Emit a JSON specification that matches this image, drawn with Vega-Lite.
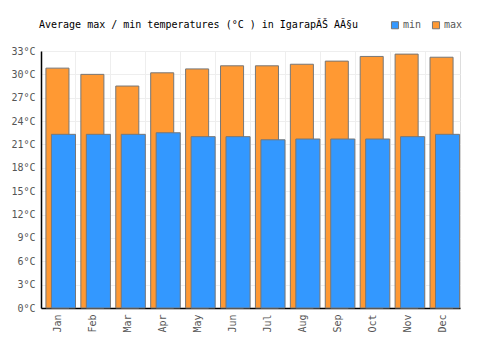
{
  "$schema": "https://vega.github.io/schema/vega-lite/v6.json",
  "autosize": "none",
  "width": 419,
  "height": 257,
  "padding": {"left": 41, "top": 51, "right": 40, "bottom": 42},
  "background": "white",
  "title": {
    "text": "Average max / min temperatures (°C ) in IgarapÃŠ AÃ§u",
    "anchor": "start",
    "frame": "group",
    "offset": -10,
    "dx": -2,
    "font": "DejaVu Sans Mono",
    "fontSize": 10,
    "fontWeight": "normal",
    "color": "#000000"
  },
  "data": {
    "values": [
      {"month": "Jan", "type": "max", "temp": 30.8},
      {"month": "Feb", "type": "max", "temp": 30.0},
      {"month": "Mar", "type": "max", "temp": 28.5},
      {"month": "Apr", "type": "max", "temp": 30.2},
      {"month": "May", "type": "max", "temp": 30.7},
      {"month": "Jun", "type": "max", "temp": 31.1},
      {"month": "Jul", "type": "max", "temp": 31.1},
      {"month": "Aug", "type": "max", "temp": 31.3},
      {"month": "Sep", "type": "max", "temp": 31.7},
      {"month": "Oct", "type": "max", "temp": 32.3},
      {"month": "Nov", "type": "max", "temp": 32.6},
      {"month": "Dec", "type": "max", "temp": 32.2},
      {"month": "Jan", "type": "min", "temp": 22.3},
      {"month": "Feb", "type": "min", "temp": 22.3},
      {"month": "Mar", "type": "min", "temp": 22.3},
      {"month": "Apr", "type": "min", "temp": 22.5},
      {"month": "May", "type": "min", "temp": 22.0},
      {"month": "Jun", "type": "min", "temp": 22.0},
      {"month": "Jul", "type": "min", "temp": 21.6},
      {"month": "Aug", "type": "min", "temp": 21.7},
      {"month": "Sep", "type": "min", "temp": 21.7},
      {"month": "Oct", "type": "min", "temp": 21.7},
      {"month": "Nov", "type": "min", "temp": 22.0},
      {"month": "Dec", "type": "min", "temp": 22.3}
    ]
  },
  "encoding": {
    "x": {
      "field": "month",
      "type": "nominal",
      "sort": null,
      "scale": {"paddingInner": 0, "paddingOuter": 0},
      "axis": {
        "title": null,
        "labelAngle": -90,
        "labelFont": "DejaVu Sans Mono",
        "labelFontSize": 10,
        "labelColor": "#555555",
        "labelPadding": 6,
        "domainColor": "#000000",
        "domainWidth": 1.5,
        "ticks": false,
        "grid": true,
        "gridColor": "#eeeeee",
        "bandPosition": 0
      }
    },
    "y": {
      "field": "temp",
      "type": "quantitative",
      "scale": {"domain": [0, 33], "nice": false},
      "axis": {
        "title": null,
        "values": [0, 3, 6, 9, 12, 15, 18, 21, 24, 27, 30, 33],
        "labelExpr": "datum.value + '°C'",
        "labelFont": "DejaVu Sans Mono",
        "labelFontSize": 10,
        "labelColor": "#555555",
        "labelPadding": 6,
        "domainColor": "#000000",
        "domainWidth": 1.5,
        "ticks": false,
        "grid": true,
        "gridColor": "#eeeeee"
      }
    },
    "color": {
      "field": "type",
      "type": "nominal",
      "sort": ["min", "max"],
      "scale": {"domain": ["min", "max"], "range": ["#3398ff", "#ff9933"]},
      "legend": {
        "title": null,
        "orient": "none",
        "legendX": 349,
        "legendY": -31,
        "direction": "horizontal",
        "symbolType": "square",
        "symbolSize": 50,
        "symbolStrokeColor": "#777777",
        "symbolStrokeWidth": 1,
        "symbolOpacity": 1,
        "labelFont": "DejaVu Sans Mono",
        "labelFontSize": 10,
        "labelColor": "#555555",
        "labelOffset": 3,
        "columnPadding": 8
      }
    }
  },
  "layer": [
    {
      "transform": [{"filter": "datum.type == 'max'"}],
      "mark": {"type": "bar", "width": {"band": 0.66}, "xOffset": -1, "stroke": "#777777", "strokeWidth": 1, "opacity": 1}
    },
    {
      "transform": [{"filter": "datum.type == 'min'"}],
      "mark": {"type": "bar", "width": {"band": 0.69}, "xOffset": 5, "stroke": "#777777", "strokeWidth": 1, "opacity": 1}
    }
  ]
}
